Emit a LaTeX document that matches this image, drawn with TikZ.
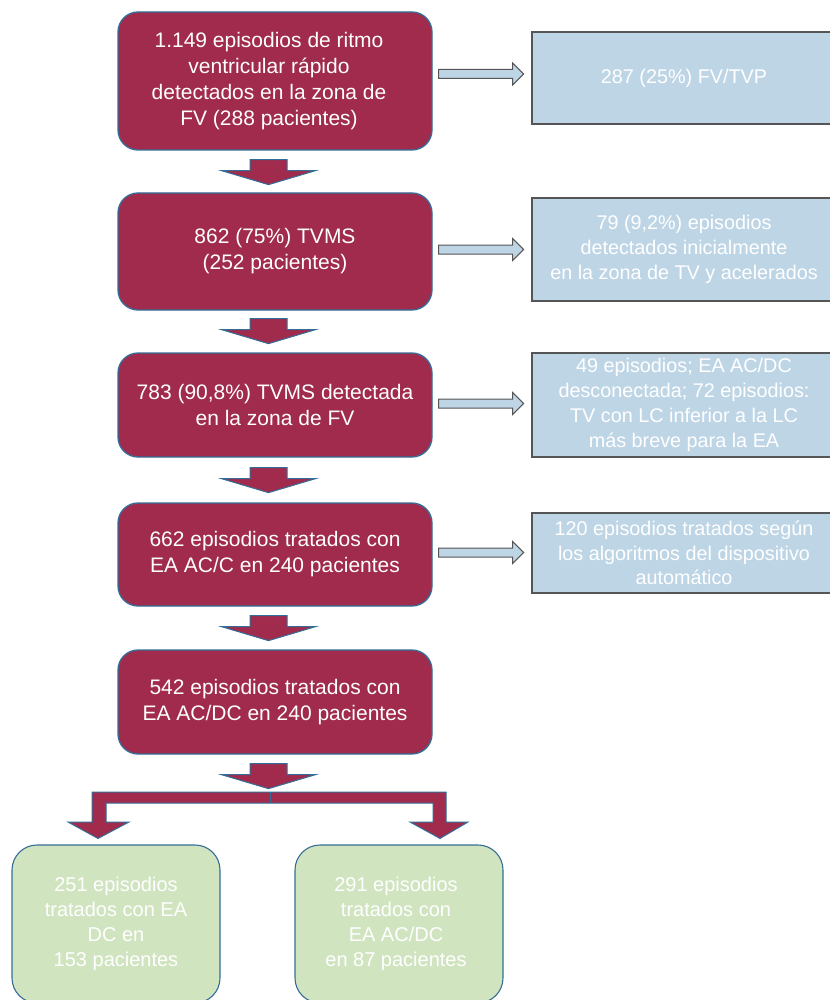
\documentclass[tikz,border=0pt]{standalone}
\usepackage{fontspec}
\setmainfont{Liberation Sans}
\usetikzlibrary{calc}
\definecolor{maroon}{RGB}{160,43,76}
\definecolor{bord}{RGB}{52,110,150}
\definecolor{lblue}{RGB}{190,213,230}
\definecolor{lgray}{RGB}{85,85,85}
\definecolor{lgreen}{RGB}{208,228,192}
\tikzset{
  mbox/.style={draw=bord, line width=1.3pt, fill=maroon, rounded corners=20pt,
    text=white, align=center, minimum width=314pt, inner sep=0pt,
    font=\fontsize{21}{26}\selectfont},
  rbox/.style={draw=lgray, line width=1.1pt, fill=lblue, text=white, align=center,
    minimum width=304pt, inner sep=0pt, font=\fontsize{19.8}{24.8}\selectfont},
  gbox/.style={draw=bord, line width=1.1pt, fill=lgreen, rounded corners=25pt,
    text=white, align=center, minimum width=208pt, minimum height=158pt, inner sep=0pt,
    font=\fontsize{20}{25}\selectfont},
  marrow/.style={draw=bord, line width=1pt, fill=maroon, line join=miter},
  barrow/.style={draw=lgray, line width=1pt, fill=lblue},
  downarr/.pic={\path[marrow] (-18.5,0) -- (18.5,0) -- (18.5,11) -- (47,11) -- (0,25)
      -- (-47,11) -- (-18.5,11) -- cycle;},
  rightarr/.pic={\path[barrow] (0,-4.5) -- (74,-4.5) -- (74,-11) -- (85,0) -- (74,11)
      -- (74,4.5) -- (0,4.5) -- cycle;}
}
\begin{document}
\begin{tikzpicture}[x=1pt,y=-1pt]
\useasboundingbox (0,0) rectangle (829,1000);
% main boxes
\node[mbox, minimum height=138pt] (b1) at (275,81)
  {\hspace*{-12pt}1.149 episodios de ritmo\\\hspace*{-12pt}ventricular rápido\\\hspace*{-12pt}detectados en la zona de\\\hspace*{-12pt}FV (288 pacientes)};
\node[mbox, minimum height=117pt] (b2) at (275,251.5) {862 (75\%) TVMS\\(252 pacientes)};
\node[mbox, minimum height=104pt] (b3) at (275,405) {783 (90,8\%) TVMS detectada\\en la zona de FV};
\node[mbox, minimum height=103pt] (b4) at (275,554.5) {662 episodios tratados con\\EA AC/C en 240 pacientes};
\node[mbox, minimum height=104pt] (b5) at (275,702) {542 episodios tratados con\\EA AC/DC en 240 pacientes};
% right boxes
\node[rbox, minimum height=92pt] (r1) at (684,78) {287 (25\%) FV/TVP};
\node[rbox, minimum height=103pt] (r2) at (684,249.5) {79 (9,2\%) episodios\\detectados inicialmente\\en la zona de TV y acelerados};
\node[rbox, minimum height=104pt] (r3) at (684,405) {49 episodios; EA AC/DC\\desconectada; 72 episodios:\\TV con LC inferior a la LC\\más breve para la EA};
\node[rbox, minimum height=80pt] (r4) at (684,553) {120 episodios tratados según\\los algoritmos del dispositivo\\automático};
% green boxes
\node[gbox] (g1) at (116,924) {251 episodios\\tratados con EA\\DC en\\153 pacientes};
\node[gbox] (g2) at (399,924) {\hspace*{-6pt}291 episodios\\\hspace*{-6pt}tratados con\\\hspace*{-6pt}EA AC/DC\\\hspace*{-6pt}en 87 pacientes};
% down arrows
\pic at ($(b1.south)+(-6.5,9)$) {downarr};
\pic at ($(b2.south)+(-6.5,8)$) {downarr};
\pic at ($(b3.south)+(-6.5,10)$) {downarr};
\pic at ($(b4.south)+(-6.5,9)$) {downarr};
\pic at ($(b5.south)+(-6.5,9)$) {downarr};
% right arrows
\pic at ($(b1.east)+(6,-7)$) {rightarr};
\pic at ($(b2.east)+(6,-2)$) {rightarr};
\pic at ($(b3.east)+(6,-1.5)$) {rightarr};
\pic at ($(b4.east)+(6,-2)$) {rightarr};
% split arrow
\coordinate (sl) at ($(g1.north)+(-18,-6)$);
\coordinate (sr) at ($(g2.north)+(41,-6)$);
\path[marrow] (92,792) -- (446,792) -- (446,822) -- (468,822) -- (sr) -- (410,822)
  -- (433,822) -- (433,803) -- (106,803) -- (106,822) -- (129,822) -- (sl)
  -- (68,822) -- (92,822) -- cycle;
\draw[bord, line width=0.8pt] (270,792) -- (270,803);
\end{tikzpicture}
\end{document}
